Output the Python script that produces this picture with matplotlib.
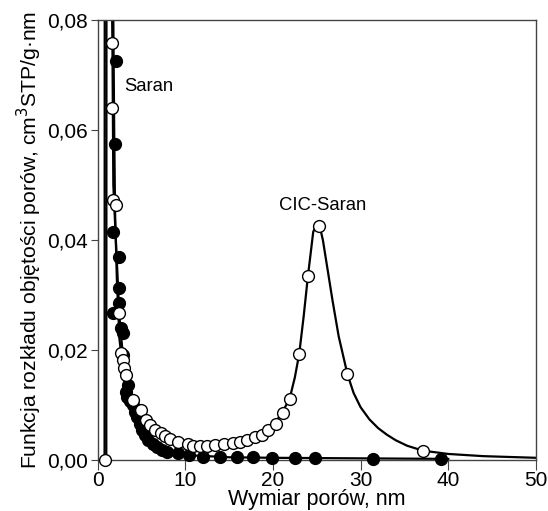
import numpy as np
import matplotlib
matplotlib.use("Agg")
import matplotlib.pyplot as plt

plt.rcParams['font.family'] = ['Liberation Sans', 'DejaVu Sans']

# CIC-Saran - open circles
cic_x = [0.8, 1.7, 1.7, 1.8, 2.05, 2.5, 2.7, 2.85, 3.0, 3.3, 4.1, 4.9, 5.5, 6.0, 6.6,
         7.2, 7.7, 8.3, 9.2, 10.3, 10.9, 11.7, 12.5, 13.4, 14.4, 15.4, 16.3, 17.1,
         18.0, 18.8, 19.4, 20.3, 21.1, 21.9, 23.0, 24.0, 25.3, 28.5, 37.1]
cic_y = [0.0, 0.0758, 0.064, 0.0473, 0.0464, 0.0267, 0.0195, 0.0182, 0.0167, 0.0155,
         0.0109, 0.0091, 0.0073, 0.0064, 0.0055, 0.0049, 0.0044, 0.0038, 0.0033,
         0.0029, 0.0025, 0.0025, 0.0025, 0.0027, 0.0029, 0.0031, 0.0033, 0.0036,
         0.0042, 0.0045, 0.0055, 0.0065, 0.0085, 0.0111, 0.0193, 0.0335, 0.0425,
         0.0156, 0.0016]

# CIC-Saran - line
cic_line_x = [0.8, 0.82, 1.6, 1.7, 1.8, 2.0, 2.5, 3.0, 4.0, 5.0, 6.0, 8.0, 10.0, 12.0,
              14.0, 16.0, 18.0, 20.0, 21.0, 21.9, 22.5, 23.0, 23.5, 24.0, 24.6, 25.0,
              25.3, 25.7, 26.2, 26.8, 27.5, 28.5, 29.2, 30.0, 31.0, 32.0, 33.0, 34.0,
              35.3, 37.1, 40.0, 44.0, 50.0]
cic_line_y = [0.0, 0.09, 0.09, 0.075, 0.05, 0.043, 0.026, 0.017, 0.011, 0.0085, 0.0065,
              0.0042, 0.003, 0.0026, 0.0028, 0.0033, 0.0043, 0.0062, 0.0085, 0.0111,
              0.015, 0.0193, 0.026, 0.0335, 0.0415, 0.0428, 0.0428, 0.040, 0.035,
              0.029, 0.0225, 0.0156, 0.0122, 0.0096, 0.0074, 0.0058, 0.0046, 0.0036,
              0.0026, 0.0017, 0.0011, 0.0007, 0.0004]

# Saran - filled circles
saran_x = [2.15, 1.95, 1.8, 2.4, 2.4, 2.5, 1.8, 2.7, 2.85, 2.95, 3.5, 3.2, 3.4, 3.7,
           4.1, 4.3, 4.55, 4.8, 5.1, 5.4, 5.8, 6.3, 6.8, 7.4, 7.95, 9.2, 10.4, 12.0,
           14.0, 15.9, 17.7, 19.9, 22.5, 24.8, 31.4, 39.2]
saran_y = [0.0725, 0.0575, 0.0415, 0.0369, 0.0313, 0.0285, 0.0267, 0.024, 0.0231,
           0.0191, 0.0136, 0.0124, 0.0115, 0.0108, 0.0100, 0.0088, 0.0078, 0.0066,
           0.0055, 0.0046, 0.0036, 0.0030, 0.0024, 0.0019, 0.0015, 0.0013, 0.0009,
           0.0005, 0.0005, 0.0005, 0.0005, 0.0004, 0.0003, 0.0003, 0.0002, 0.0002]

# Saran - line
saran_line_x = [1.0, 1.02, 1.7, 1.8, 1.9, 2.0, 2.2, 2.5, 3.0, 3.5, 4.0, 5.0, 6.0, 7.0,
                8.0, 10.0, 15.0, 20.0, 30.0, 40.0]
saran_line_y = [0.0, 0.09, 0.09, 0.08, 0.06, 0.045, 0.033, 0.022, 0.015, 0.0115,
                0.0095, 0.0055, 0.0033, 0.0021, 0.0015, 0.0009, 0.0005, 0.0004,
                0.0003, 0.0002]

yticks = [0.0, 0.02, 0.04, 0.06, 0.08]
ytick_labels = ['0,00', '0,02', '0,04', '0,06', '0,08']
xticks = [0, 10, 20, 30, 40, 50]

fig = plt.figure(figsize=(5.48, 5.11), dpi=100)
ax = fig.add_axes([0.178, 0.0998, 0.800, 0.861])

ax.plot(cic_line_x, cic_line_y, color='black', lw=1.6, zorder=2)
ax.plot(saran_line_x, saran_line_y, color='black', lw=1.6, zorder=2)
ax.plot(saran_x, saran_y, 'o', ms=8.5, mfc='black', mec='black', mew=1, zorder=3,
        clip_on=False)
ax.plot(cic_x, cic_y, 'o', ms=8.5, mfc='white', mec='black', mew=1, zorder=4,
        clip_on=False)

ax.set_xlim(0, 50)
ax.set_ylim(0, 0.08)
ax.set_xticks(xticks)
ax.set_yticks(yticks)
ax.set_yticklabels(ytick_labels)
ax.tick_params(axis='both', direction='out', labelsize=15, color='#444444')
ax.tick_params(axis='x', length=7, pad=1)
ax.tick_params(axis='y', length=5, pad=2)
for s in ax.spines.values():
    s.set_color('#444444')
    s.set_linewidth(1.0)

ax.set_xlabel('Wymiar porów, nm', fontsize=15.5, labelpad=-1)
ax.set_ylabel('Funkcja rozkładu objętości porów, cm$^3$STP/g·nm', fontsize=15.2,
              labelpad=2)

ax.text(3.0, 0.068, 'Saran', fontsize=13.3, va='center', ha='left')
ax.text(20.7, 0.0462, 'CIC-Saran', fontsize=13.3, va='center', ha='left')

fig.savefig('out.png', dpi=100)
